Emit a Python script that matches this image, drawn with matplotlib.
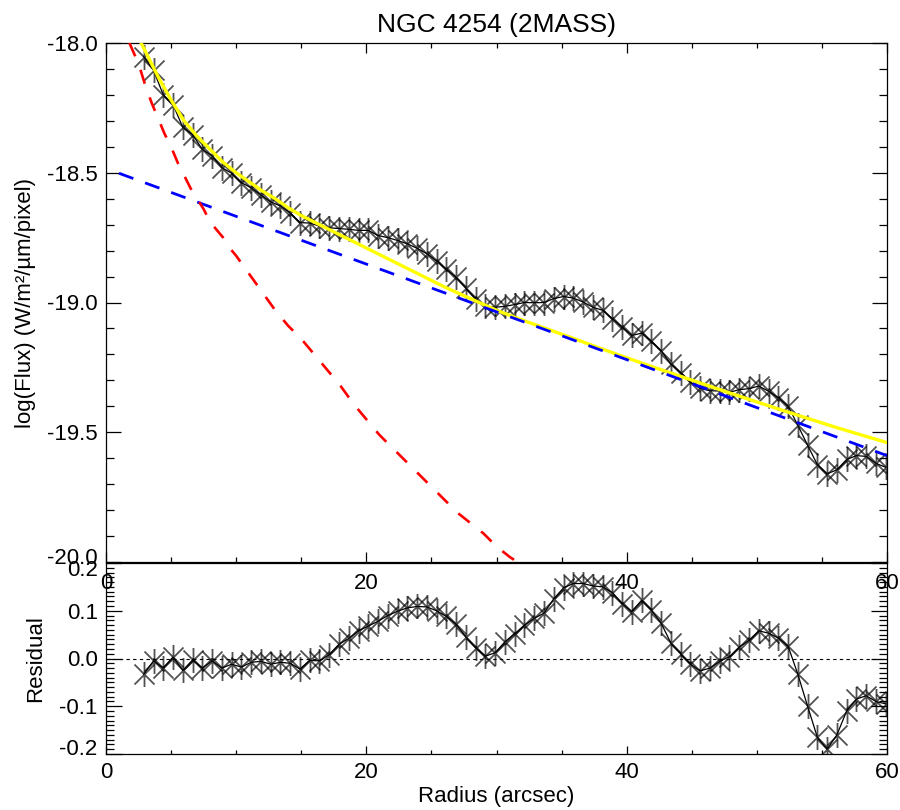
import matplotlib
matplotlib.use('Agg')
import matplotlib.pyplot as plt
from matplotlib.path import Path
from matplotlib.transforms import ScaledTranslation
from matplotlib.ticker import MultipleLocator, FuncFormatter

plt.rcParams['font.family'] = ['Liberation Sans', 'DejaVu Sans']
plt.rcParams['axes.unicode_minus'] = False

# surface brightness profile (arcsec, log flux)
radius = [2.9, 3.65, 4.4, 5.15, 5.9, 6.65, 7.4, 8.15, 8.9, 9.65,
          10.4, 11.15, 11.9, 12.65, 13.4, 14.15, 14.9, 15.65, 16.4, 17.15,
          17.9, 18.65, 19.4, 20.15, 20.9, 21.65, 22.4, 23.15, 23.9, 24.65,
          25.4, 26.15, 26.9, 27.65, 28.4, 29.15, 29.9, 30.65, 31.4, 32.15,
          32.9, 33.65, 34.4, 35.15, 35.9, 36.65, 37.4, 38.15, 38.9, 39.65,
          40.4, 41.15, 41.9, 42.65, 43.4, 44.15, 44.9, 45.65, 46.4, 47.15,
          47.9, 48.65, 49.4, 50.15, 50.9, 51.65, 52.4, 53.15, 53.9, 54.65,
          55.4, 56.15, 56.9, 57.65, 58.4, 59.15, 59.9]
flux = [-18.053, -18.105, -18.200, -18.237, -18.325, -18.353, -18.410, -18.435, -18.480, -18.502,
        -18.538, -18.558, -18.586, -18.612, -18.628, -18.655, -18.692, -18.694, -18.705, -18.712,
        -18.715, -18.718, -18.722, -18.722, -18.742, -18.750, -18.761, -18.774, -18.791, -18.812,
        -18.840, -18.872, -18.903, -18.945, -18.988, -19.015, -19.018, -19.015, -19.008, -19.000,
        -19.001, -19.000, -18.985, -18.977, -18.983, -18.998, -19.018, -19.030, -19.062, -19.095,
        -19.127, -19.118, -19.149, -19.186, -19.238, -19.270, -19.307, -19.331, -19.340, -19.341,
        -19.346, -19.336, -19.332, -19.322, -19.342, -19.367, -19.399, -19.473, -19.550, -19.625,
        -19.660, -19.645, -19.605, -19.590, -19.593, -19.620, -19.635]
resid = [-0.033, -0.005, -0.020, 0.003, -0.025, -0.003, -0.020, -0.005, -0.020, -0.012,
         -0.018, -0.008, -0.006, -0.012, -0.008, -0.010, -0.022, -0.004, -0.005, 0.008,
         0.030, 0.042, 0.058, 0.068, 0.078, 0.090, 0.099, 0.106, 0.109, 0.108,
         0.100, 0.088, 0.072, 0.045, 0.022, 0.005, 0.012, 0.035, 0.052, 0.070,
         0.084, 0.095, 0.125, 0.148, 0.157, 0.157, 0.152, 0.150, 0.138, 0.115,
         0.098, 0.122, 0.101, 0.074, 0.032, 0.010, -0.012, -0.026, -0.020, -0.006,
         0.004, 0.024, 0.038, 0.058, 0.053, 0.043, 0.026, -0.033, -0.100, -0.165,
         -0.190, -0.160, -0.110, -0.085, -0.078, -0.090, -0.095]

# bulge model (red)
bulge_r = [1.8, 2.5, 3.0, 3.5, 4.0, 4.5, 5.0, 5.5, 6.0, 6.5, 7.0, 7.5, 8.0, 8.5, 9.0, 9.5,
           10, 11, 12, 13, 14, 15, 16, 17, 18, 19, 20, 21, 22, 23, 24, 25, 26, 27, 28,
           29, 30, 31, 31.6]
bulge = [-18.00, -18.08, -18.16, -18.23, -18.29, -18.35, -18.40, -18.46, -18.51, -18.56,
         -18.60, -18.64, -18.69, -18.72, -18.75, -18.79, -18.82, -18.89, -18.96, -19.03,
         -19.09, -19.14, -19.20, -19.26, -19.32, -19.39, -19.45, -19.51, -19.56, -19.61,
         -19.66, -19.71, -19.76, -19.81, -19.85, -19.89, -19.94, -19.98, -20.00]

# disk model (blue)
disk_r = [1, 10, 20, 30, 40, 50, 60]
disk = [-18.502, -18.668, -18.852, -19.036, -19.22, -19.405, -19.59]

# total model (yellow)
total_r = [2.6, 3, 4, 5, 6, 7, 8, 9, 10, 11, 12, 13, 14, 15, 16, 17, 18, 19, 20,
           22, 24, 26, 28, 30, 32, 34, 36, 38, 40, 42, 44, 46, 48, 50, 52, 54, 56, 58, 60]
total = [-17.99, -18.03, -18.13, -18.22, -18.30, -18.36, -18.41, -18.46, -18.50, -18.535,
         -18.57, -18.60, -18.635, -18.665, -18.69, -18.715, -18.74, -18.765, -18.79, -18.84,
         -18.89, -18.94, -18.985, -19.03, -19.068, -19.104, -19.14, -19.177, -19.213, -19.248,
         -19.282, -19.316, -19.35, -19.383, -19.416, -19.448, -19.48, -19.51, -19.54]

# IDL-like asterisk: vertical bar plus an X
d = 0.8
star = Path([(0, -1), (0, 1), (-d, -d), (d, d), (-d, d), (d, -d)],
            [Path.MOVETO, Path.LINETO, Path.MOVETO, Path.LINETO, Path.MOVETO, Path.LINETO])

fig = plt.figure(figsize=(9, 8.1), dpi=100)
ax_res = fig.add_axes([106 / 900, 1 - 754 / 810, 781 / 900, (754 - 563) / 810])
ax = fig.add_axes([106 / 900, 1 - 562 / 810, 781 / 900, (562 - 43) / 810])

pts = dict(color='k', lw=0.9, marker=star, ms=18, mec=(0, 0, 0, 0.68), mew=1.3, mfc='none')


def fmt_skip(skip):
    # blank the end label, it is drawn separately (IDL shifts it inward)
    def f(v, pos):
        if abs(v - skip) < 1e-6:
            return ''
        return '%.1f' % v
    return FuncFormatter(f)


def shifted(a, dy_px):
    return a.get_yaxis_transform() + ScaledTranslation(-6 / 72, dy_px / 100, fig.dpi_scale_trans)


# top panel
ax.plot(radius, flux, zorder=2, **pts)
ax.plot(total_r, total, color='#ffff00', lw=2.4, zorder=3)
ax.plot(disk_r, disk, color='#0000ff', lw=2.0, dashes=(5.5, 4.5), zorder=4)
ax.plot(bulge_r, bulge, color='#ff0000', lw=1.9, dashes=(5.5, 5.5), zorder=4)
ax.set_xlim(0, 60)
ax.set_ylim(-20, -18)
ax.xaxis.set_major_locator(MultipleLocator(20))
ax.xaxis.set_minor_locator(MultipleLocator(5))
ax.yaxis.set_major_locator(MultipleLocator(0.5))
ax.yaxis.set_minor_locator(MultipleLocator(0.1))
ax.yaxis.set_major_formatter(fmt_skip(-20.0))
ax.tick_params(which='both', direction='in', top=True, right=True, labelsize=16, width=0.9)
ax.tick_params(axis='x', which='major', length=7, pad=8)
ax.tick_params(axis='x', which='minor', length=3.6)
ax.tick_params(axis='y', which='major', length=11, pad=6)
ax.tick_params(axis='y', which='minor', length=6)
ax.text(0, -20.0, '-20.0', fontsize=16, ha='right', va='center_baseline',
        transform=shifted(ax, 6), clip_on=False)
ax.set_ylabel('log(Flux) (W/m²/µm/pixel)', fontsize=16)
ax.yaxis.set_label_coords(-0.089, 0.5)
ax.set_title('NGC 4254 (2MASS)', fontsize=19, pad=8)
for s in ax.spines.values():
    s.set_linewidth(0.9)

# residual panel
ax_res.plot(radius, resid, **pts)
ax_res.axhline(0, color='k', lw=0.8, dashes=(3, 3), zorder=1)
ax_res.set_xlim(0, 60)
ax_res.set_ylim(-0.2, 0.2)
ax_res.xaxis.set_major_locator(MultipleLocator(20))
ax_res.xaxis.set_minor_locator(MultipleLocator(5))
ax_res.yaxis.set_major_locator(MultipleLocator(0.1))
ax_res.yaxis.set_minor_locator(MultipleLocator(0.01))
ax_res.yaxis.set_major_formatter(FuncFormatter(
    lambda v, pos: '' if abs(abs(v) - 0.2) < 1e-6 else '%.1f' % v))
ax_res.tick_params(which='both', direction='in', right=True, labelsize=16, width=0.9)
ax_res.tick_params(axis='x', which='major', length=5.8, pad=6)
ax_res.tick_params(axis='x', which='minor', length=2.9)
ax_res.tick_params(axis='y', which='major', length=11.5, pad=6)
ax_res.tick_params(axis='y', which='minor', length=5.8)
ax_res.text(0, 0.2, '0.2', fontsize=16, ha='right', va='center_baseline',
            transform=shifted(ax_res, -5), clip_on=False)
ax_res.text(0, -0.2, '-0.2', fontsize=16, ha='right', va='center_baseline',
            transform=shifted(ax_res, 7), clip_on=False)
ax_res.set_xlabel('Radius (arcsec)', fontsize=16, labelpad=2)
ax_res.set_ylabel('Residual', fontsize=16)
ax_res.yaxis.set_label_coords(-0.077, 0.5)
for s in ax_res.spines.values():
    s.set_linewidth(0.9)

fig.savefig('out.png', dpi=100)
